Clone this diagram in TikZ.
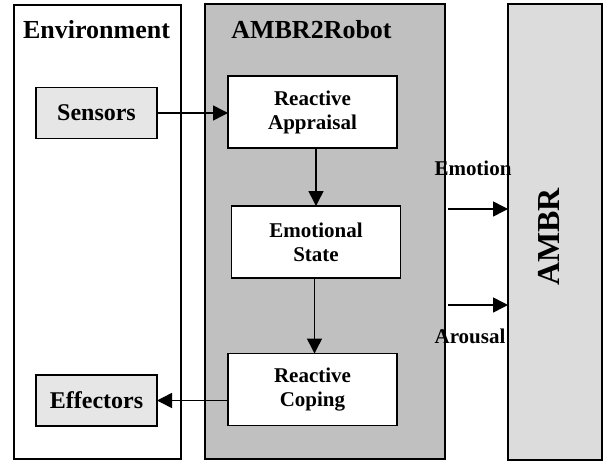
\documentclass[tikz,border=0pt]{standalone}
\usepackage{fontspec}
\setmainfont{Liberation Serif}
\usetikzlibrary{arrows.meta}
\definecolor{robotgray}{HTML}{C0C0C0}
\definecolor{ambrgray}{HTML}{DCDCDC}
\definecolor{boxgray}{HTML}{E6E6E6}
\begin{document}
\begin{tikzpicture}[x=1pt,y=-1pt,
 frame/.style={draw, line width=1.6pt, inner sep=0pt, outer sep=0pt},
 inbox/.style={draw, line width=1.4pt, fill=white, minimum width=169pt, minimum height=72pt, align=center, font=\fontsize{21}{24}\selectfont\bfseries, inner sep=0pt, outer sep=0pt},
 envbox/.style={draw, line width=1.4pt, fill=boxgray, minimum width=121pt, minimum height=51pt, font=\fontsize{24}{26}\selectfont\bfseries, inner sep=0pt, outer sep=0pt},
 title/.style={font=\fontsize{26}{28}\selectfont\bfseries, anchor=base},
 lab/.style={font=\fontsize{21}{24}\selectfont\bfseries, anchor=base},
 arr/.style={line width=1.5pt, -{Triangle[length=15pt,width=15pt]}}
]
\useasboundingbox (0,0) rectangle (603,461);
% frames
\node[frame, fill=white, minimum width=167pt, minimum height=454pt] (env) at (97.5,232) {};
\node[frame, fill=robotgray, minimum width=240pt, minimum height=455pt] (robot) at (325,231.5) {};
\node[frame, fill=ambrgray, minimum width=94pt, minimum height=456pt] (ambr) at (555,232) {};
% titles
\node[title] (envt) at (96.5,38) {Environment};
\node[title] (robt) at (311.5,38) {AMBR2Robot};
\node[font=\fontsize{32}{34}\selectfont\bfseries, rotate=90] (ambrt) at (549,237) {AMBR};
% boxes
\node[envbox] (sensors) at (96.5,113) {Sensors};
\node[envbox] (effectors) at (96.5,400.5) {Effectors};
\node[inbox] (appr) at (312.5,112) {Reactive\\Appraisal};
\node[inbox] (emo) at (316,242) {Emotional\\State};
\node[inbox] (coping) at (312.5,389.5) {Reactive\\Coping};
% arrows
\draw[arr] (sensors.east) -- (sensors.east -| appr.west);
\draw[arr] (emo.north |- appr.south) -- (emo.north);
\draw[arr] ([xshift=-1.5pt]emo.south) -- ([xshift=-1.5pt]emo.south |- coping.north);
\draw[arr] (coping.west |- effectors.east) -- (effectors.east);
\coordinate (e1) at (448,209);
\coordinate (e2) at (448,305);
\draw[arr] (e1) -- (e1 -| ambr.west);
\draw[arr] (e2) -- (e2 -| ambr.west);
% labels
\node[lab] (emol) at (473,175) {Emotion};
\node[lab] (arol) at (470,343) {Arousal};
\end{tikzpicture}
\end{document}
